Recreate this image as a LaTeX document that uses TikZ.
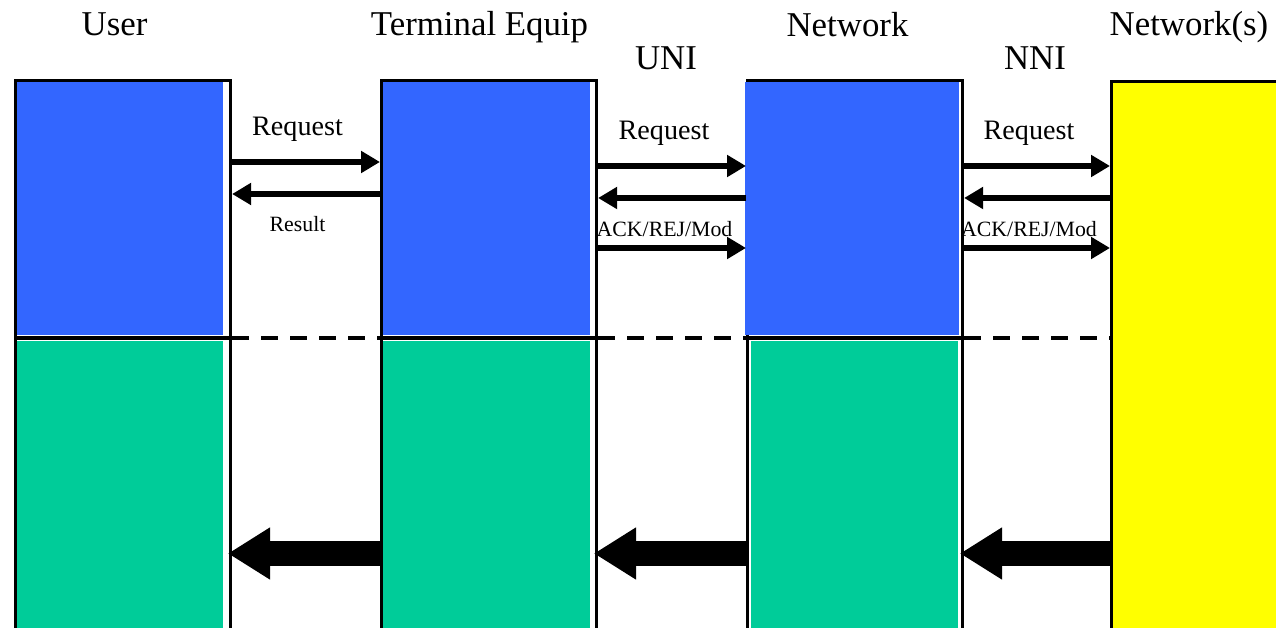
\documentclass[tikz,border=0pt]{standalone}
\usepackage{fontspec}
\setmainfont{Liberation Serif}
\usetikzlibrary{arrows.meta}

\definecolor{upblue}{HTML}{3366FF}
\definecolor{lowgreen}{HTML}{00CC99}
\definecolor{farnet}{HTML}{FFFF00}

\tikzset{
  column/.style = {draw, line width=0.85pt, anchor=north west, inner sep=0pt,
    minimum width=2.15cm, minimum height=6cm},
  upper/.style = {fill=upblue, anchor=north west, inner sep=0pt,
    minimum height=2.53cm},
  lower/.style = {fill=lowgreen, anchor=north west, inner sep=0pt,
    minimum height=2.9cm},
  divider/.style = {line width=1.13pt},
  msg/.style = {line width=1.5pt, -{Triangle[length=5.4pt,width=6pt]}},
  bigmsg/.style = {line width=7.1pt, shorten >=-1.2pt,
    -{Triangle[length=12pt,width=14pt]}},
  head/.style = {anchor=base, inner sep=0pt, font=\fontsize{9.9}{12}\selectfont},
  lbl/.style = {anchor=base, inner sep=0pt, font=\fontsize{8}{10}\selectfont},
  note/.style = {anchor=base, inner sep=0pt, font=\fontsize{6.2}{8}\selectfont}
}

\begin{document}
\begin{tikzpicture}[x=0.01cm, y=-0.01cm]
\useasboundingbox (0,0) rectangle (1276,628);

% the four columns
\node[column] (user) at (14,79) {};
\node[column] (term) at (380,79) {};
\node[column] (net) at (746,79) {};
\node[column, fill=farnet] (nets) at (1110,80) {};

% blue upper and green lower halves
\node[upper, minimum width=2.06cm] (userTop) at (16,81) {};
\node[lower, minimum width=2.06cm] (userBot) at (16,340) {};
\node[upper, minimum width=2.07cm] (termTop) at (382,81) {};
\node[lower, minimum width=2.07cm] (termBot) at (382,340) {};
\node[upper, minimum width=2.14cm] (netTop) at (744,81) {};
\node[lower, minimum width=2.07cm] (netBot) at (750,340) {};

% middle divider
\coordinate (mid) at (0,338);
\draw[divider] (user.west |- mid) -- (user.east |- mid);
\draw[divider] (term.west |- mid) -- (term.east |- mid);
\draw[divider] (net.west |- mid) -- (net.east |- mid);
\draw[divider, dash pattern=on 0.17cm off 0.12cm] (user.east |- mid) -- (term.west |- mid);
\draw[divider, dash pattern=on 0.17cm off 0.12cm] (term.east |- mid) -- (net.west |- mid);
\draw[divider, dash pattern=on 0.17cm off 0.12cm] (net.east |- mid) -- (nets.west |- mid);

% headings
\node[head] (hUser) at (114.5,36) {User};
\node[head] (hTerm) at (479.5,36) {Terminal Equip};
\node[head] (hNet) at (847.5,37) {Network};
\node[head, anchor=base west] (hNets) at (1109,36) {Network(s)};
\node[head] (uni) at (666,70) {UNI};
\node[head] (nni) at (1035,70) {NNI};

% messages
\coordinate (r1) at (0,162);
\coordinate (s1) at (0,194);
\coordinate (r2) at (0,166);
\coordinate (s2) at (0,198);
\coordinate (a2) at (0,248);
\coordinate (big) at (0,553.5);

\node[lbl] (req1) at (297.5,136) {Request};
\node[note] (res1) at (297.5,232) {Result};
\draw[msg] (user.east |- r1) -- (term.west |- r1);
\draw[msg] (term.west |- s1) -- (user.east |- s1);

\node[lbl] (req2) at (664,140) {Request};
\node[note] (ack2) at (664.5,237) {ACK/REJ/Mod};
\draw[msg] (term.east |- r2) -- (net.west |- r2);
\draw[msg] (net.west |- s2) -- (term.east |- s2);
\draw[msg] (term.east |- a2) -- (net.west |- a2);

\node[lbl] (req3) at (1029,140) {Request};
\node[note] (ack3) at (1029,237) {ACK/REJ/Mod};
\draw[msg] (net.east |- r2) -- (nets.west |- r2);
\draw[msg] (nets.west |- s2) -- (net.east |- s2);
\draw[msg] (net.east |- a2) -- (nets.west |- a2);

% results coming back
\draw[bigmsg] (term.west |- big) -- (user.east |- big);
\draw[bigmsg] (net.west |- big) -- (term.east |- big);
\draw[bigmsg] (nets.west |- big) -- (net.east |- big);
\end{tikzpicture}
\end{document}
